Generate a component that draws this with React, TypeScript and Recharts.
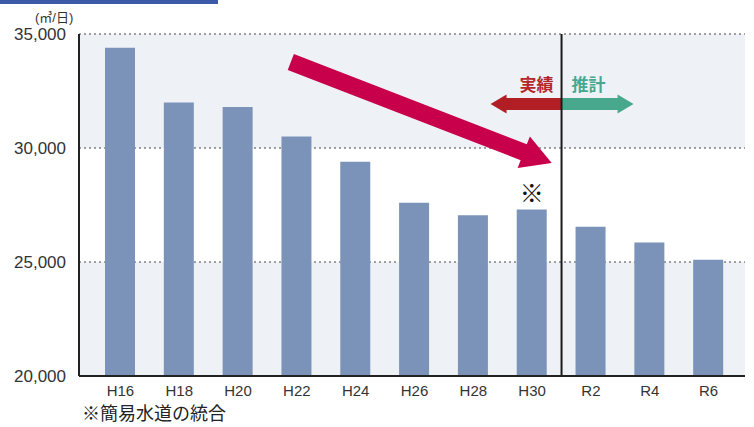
import { BarChart, Bar, XAxis, YAxis, CartesianGrid, ReferenceLine, LabelList } from "recharts"

const categories = ["H16", "H18", "H20", "H22", "H24", "H26", "H28", "H30", "R2", "R4", "R6"]
const volumes = [34400, 32000, 31800, 30500, 29400, 27600, 27050, 27300, 26550, 25850, 25100]
const notes = ["", "", "", "", "", "", "", "※", "", "", ""]
const yTicks = [20000, 25000, 30000, 35000]

// trend arrow: from H22 down to H30
const trendFrom = { x: "H22", y: 33670 }
const trendTo = { x: "H30", y: 29670 }

const data = categories.map((c, i) => ({ name: c, value: volumes[i], note: notes[i] }))

const FONT = "'Liberation Sans', Arial, 'Noto Sans CJK JP', sans-serif"

function TrendArrow(props: any) {
  const { x1, y1, x2, y2 } = props
  const dx = x2 - x1
  const dy = y2 - y1
  const len = Math.hypot(dx, dy)
  const ux = dx / len
  const uy = dy / len
  // stretch a bit past the band centres
  const sx = x1 - ux * 6.5
  const sy = y1 - uy * 6.5
  const tx = x2 + ux * 21
  const ty = y2 + uy * 21
  const nx = -uy
  const ny = ux
  const shaft = 8.5
  const head = 17
  const headLen = 30
  const bx = tx - ux * headLen
  const by = ty - uy * headLen
  const pts = [
    [sx + nx * shaft, sy + ny * shaft],
    [bx + nx * shaft, by + ny * shaft],
    [bx + nx * head, by + ny * head],
    [tx, ty],
    [bx - nx * head, by - ny * head],
    [bx - nx * shaft, by - ny * shaft],
    [sx - nx * shaft, sy - ny * shaft],
  ]
  return <polygon points={pts.map((p) => p.join(",")).join(" ")} fill="#c8004c" />
}

function Divider(props: any) {
  const { x1, y1, y2 } = props
  const top = Math.min(y1, y2)
  const bottom = Math.max(y1, y2)
  const ay = top + 70
  const left = `${x1},${ay - 6} ${x1 - 55},${ay - 6} ${x1 - 55},${ay - 9.5} ${x1 - 71},${ay} ${x1 - 55},${ay + 9.5} ${x1 - 55},${ay + 6} ${x1},${ay + 6}`
  const right = `${x1},${ay - 6} ${x1 + 56},${ay - 6} ${x1 + 56},${ay - 9.5} ${x1 + 72},${ay} ${x1 + 56},${ay + 9.5} ${x1 + 56},${ay + 6} ${x1},${ay + 6}`
  return (
    <g>
      <polygon points={left} fill="#b11f24" />
      <polygon points={right} fill="#47a88c" />
      <text x={x1 - 25} y={ay - 19} textAnchor="middle" dominantBaseline="central" fontSize={17} fontWeight="bold" fill="#b5252a" fontFamily={FONT}>
        実績
      </text>
      <text x={x1 + 27} y={ay - 19} textAnchor="middle" dominantBaseline="central" fontSize={17} fontWeight="bold" fill="#48a88d" fontFamily={FONT}>
        推計
      </text>
      <line x1={x1} y1={top} x2={x1} y2={bottom} stroke="#1a1a1a" strokeWidth={2} />
    </g>
  )
}

export default function App() {
  return (
    <div style={{ position: "absolute", left: 0, top: 0, width: 754, height: 427, background: "#fff", fontFamily: FONT }}>
      <BarChart width={754} height={427} data={data} margin={{ top: 34, right: 9, bottom: 21, left: 0 }} barSize={30}>
        <CartesianGrid
          vertical={false}
          stroke="#444"
          strokeDasharray="2 3"
          horizontalFill={["#eef2f6", "#ffffff", "#eef2f6"]}
          fillOpacity={1}
        />
        <XAxis
          dataKey="name"
          height={30}
          padding={{ left: 12, right: 7 }}
          tickLine={false}
          tickSize={0}
          tickMargin={9}
          axisLine={{ stroke: "#222", strokeWidth: 2 }}
          tick={{ fontSize: 15, fill: "#333", fontFamily: FONT }}
        />
        <YAxis
          width={79}
          domain={[20000, 35000]}
          ticks={yTicks}
          tickLine={false}
          tickSize={0}
          tickMargin={13}
          axisLine={{ stroke: "#222", strokeWidth: 2 }}
          tickFormatter={(v: number) => v.toLocaleString("en-US")}
          tick={{ fontSize: 17, fill: "#333", fontFamily: FONT }}
        />
        <Bar dataKey="value" fill="#7b93b8" isAnimationActive={false}>
          <LabelList dataKey="note" position="top" offset={8} fontSize={24} fill="#111" fontFamily="'Noto Sans CJK JP', sans-serif" />
        </Bar>
        <ReferenceLine x="H30" position="end" shape={<Divider />} ifOverflow="visible" />
        <ReferenceLine segment={[trendFrom, trendTo]} shape={<TrendArrow />} ifOverflow="visible" />
      </BarChart>
      <svg width={754} height={427} style={{ position: "absolute", left: 0, top: 0, pointerEvents: "none" }}>
        <rect x={0} y={0} width={218} height={4} fill="#3c5aa8" />
        <text x={35} y={17} dominantBaseline="central" fontSize={13} fill="#333" fontFamily={FONT}>
          (㎥/日)
        </text>
        <text x={82} y={414} dominantBaseline="central" fontSize={18} fill="#222" fontFamily={FONT}>
          ※簡易水道の統合
        </text>
      </svg>
    </div>
  )
}
